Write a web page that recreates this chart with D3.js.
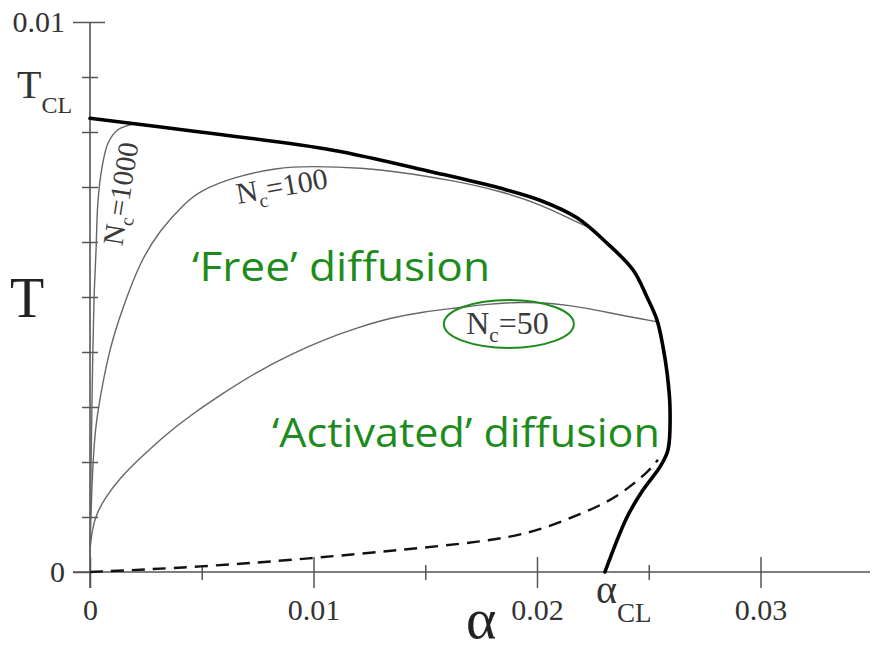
<!DOCTYPE html>
<html>
<head>
<meta charset="utf-8">
<script src="https://cdn.jsdelivr.net/npm/d3@7"></script>
<style>
  body { margin: 0; background: #fff; }
  svg { display: block; }
  .serif { font-family: "Liberation Serif", "Times New Roman", Times, serif; }
  .sans { font-family: "Open Sans", "Noto Sans", sans-serif; }
</style>
</head>
<body>
<svg id="chart" width="872" height="652"></svg>
<script>
// ---- Phase boundary (thick line): alpha vs T ----
const boundaryAlpha = [0, 0.00492, 0.01087, 0.01535, 0.01834, 0.02013, 0.02179, 0.02313, 0.0243, 0.02492,
                       0.02537, 0.02564, 0.02582, 0.02595, 0.02586, 0.0255, 0.02474, 0.02403, 0.02304];
const boundaryT     = [0.00825, 0.0080, 0.00767, 0.00727, 0.00698, 0.00676, 0.00644, 0.00598, 0.00549, 0.0050,
                       0.00458, 0.00409, 0.00362, 0.0030, 0.00222, 0.00191, 0.00149, 0.0010, 0];

// ---- Crossover lines for several cluster sizes N_c ----
const nc1000Alpha = [0, 0.00002, 0.00004, 0.00009, 0.00018, 0.00027, 0.00036, 0.00054, 0.00081, 0.00125, 0.00201];
const nc1000T     = [0.0002, 0.0009, 0.00167, 0.00313, 0.00495, 0.00585, 0.00676, 0.00736, 0.0078, 0.00804, 0.00815];

const nc100Alpha = [0, 0.00009, 0.00022, 0.00045, 0.00089, 0.00148, 0.00224, 0.00313, 0.00425, 0.00492,
                    0.0064, 0.00837, 0.00984, 0.01221, 0.01387, 0.01611, 0.01834, 0.02013, 0.02179, 0.02237];
const nc100T     = [0.00049, 0.00167, 0.00258, 0.00318, 0.00409, 0.00482, 0.00564, 0.00622, 0.00671, 0.00693,
                    0.00718, 0.00735, 0.00738, 0.00735, 0.00727, 0.00713, 0.00693, 0.00669, 0.00636, 0.00626];

const nc50Alpha = [0, 0.00009, 0.00027, 0.00067, 0.00134, 0.00224, 0.00336, 0.00447, 0.00595, 0.00747, 0.00895,
                   0.01043, 0.01195, 0.01342, 0.0149, 0.01642, 0.01776, 0.01924, 0.02072, 0.02224, 0.02371, 0.02537];
const nc50T     = [0.00040, 0.00076, 0.00104, 0.00135, 0.00171, 0.00207, 0.00249, 0.00284, 0.00325, 0.00364, 0.00395,
                   0.00422, 0.00444, 0.00462, 0.00473, 0.0048, 0.00487, 0.00491, 0.00489, 0.0048, 0.00467, 0.00455];

// ---- Dashed lower line ----
const dashAlpha = [0, 0.00492, 0.00998, 0.01387, 0.01758, 0.01982, 0.02206, 0.02358, 0.02506, 0.02541];
const dashT     = [0, 0.00009, 0.00025, 0.0004, 0.00055, 0.00071, 0.00107, 0.00135, 0.00185, 0.00204];

// ---- Axis ticks ----
const xMajorTicks = [0, 0.01, 0.02, 0.03];
const xTickLabels = ["0", "0.01", "0.02", "0.03"];
const xMinorTicks = [0.005, 0.015, 0.025];
const yMajorTicks = [0, 0.01];
const yTickLabels = ["0", "0.01"];
const yMinorTicks = [0.001, 0.002, 0.003, 0.004, 0.005, 0.006, 0.007, 0.008, 0.009];
const alphaCL = 0.0230;
const tclTick = 0.009;

const zip = (a, b) => a.map((v, i) => [v, b[i]]);

const svg = d3.select("#chart");
const x = d3.scaleLinear().domain([0, 0.035]).range([90, 872.25]);
const y = d3.scaleLinear().domain([0, 0.01]).range([572, 22]);

const axisColor = "#555";
const textColor = "#333";
const green = "#1d8c1d";

// ---------- axes ----------
const gx = svg.append("g").attr("transform", `translate(0,${y(0)})`);
gx.call(d3.axisBottom(x).tickValues(xMajorTicks).tickFormat((d, i) => xTickLabels[i]).tickSize(16));
gx.attr("font-family", null).attr("font-size", null);
gx.select(".domain").remove();
gx.selectAll(".tick line").attr("y1", -15).attr("y2", 16).attr("stroke", axisColor).attr("stroke-width", 1.5);
gx.selectAll(".tick text").attr("y", 48).attr("dy", 0).attr("class", "serif")
  .style("font-size", "30px").attr("fill", textColor);

const gxm = svg.append("g").attr("transform", `translate(0,${y(0)})`);
gxm.call(d3.axisBottom(x).tickValues(xMinorTicks).tickFormat("").tickSize(8));
gxm.select(".domain").remove();
gxm.selectAll(".tick line").attr("y1", -7).attr("y2", 8).attr("stroke", axisColor).attr("stroke-width", 1.5);

const gy = svg.append("g").attr("transform", `translate(${x(0)},0)`);
gy.call(d3.axisLeft(y).tickValues(yMajorTicks).tickFormat((d, i) => yTickLabels[i]).tickSize(17));
gy.attr("font-family", null).attr("font-size", null);
gy.select(".domain").remove();
gy.selectAll(".tick line").attr("x2", -17).attr("x1", d => d === 0 ? 0 : 15)
  .attr("stroke", axisColor).attr("stroke-width", 1.5);
gy.selectAll(".tick text").attr("x", -25).attr("dy", "0.33em").attr("class", "serif")
  .style("font-size", "30px").attr("fill", textColor);

const gym = svg.append("g").attr("transform", `translate(${x(0)},0)`);
gym.call(d3.axisLeft(y).tickValues(yMinorTicks).tickFormat("").tickSize(8));
gym.select(".domain").remove();
gym.selectAll(".tick line").attr("x1", 8).attr("x2", -8).attr("stroke", axisColor).attr("stroke-width", 1.5);

// axis lines
svg.append("line").attr("x1", 73).attr("x2", 870).attr("y1", y(0)).attr("y2", y(0))
  .attr("stroke", axisColor).attr("stroke-width", 1.6);
svg.append("line").attr("x1", x(0)).attr("x2", x(0)).attr("y1", y(0.01)).attr("y2", y(0) + 16)
  .attr("stroke", axisColor).attr("stroke-width", 1.6);

// axis titles and special labels
svg.append("text").attr("class", "serif").attr("x", 10).attr("y", 317).style("font-size", "56px")
  .attr("fill", "#222").text("T");
svg.append("text").attr("class", "serif").attr("x", 466).attr("y", 638).style("font-size", "58px")
  .attr("fill", "#222").text("α");

const tcl = svg.append("text").attr("class", "serif").attr("x", 17).attr("y", y(tclTick) + 21)
  .attr("fill", textColor);
tcl.append("tspan").style("font-size", "40px").text("T");
tcl.append("tspan").style("font-size", "24px").attr("dy", 15).text("CL");

const acl = svg.append("text").attr("class", "serif").attr("x", x(alphaCL) - 8).attr("y", 603)
  .attr("fill", textColor);
acl.append("tspan").style("font-size", "40px").text("α");
acl.append("tspan").style("font-size", "27px").attr("dy", 19).text("CL");

// ---------- curves ----------
const smooth = d3.line().x(d => x(d[0])).y(d => y(d[1])).curve(d3.curveBasis);
const through = d3.line().x(d => x(d[0])).y(d => y(d[1])).curve(d3.curveCatmullRom.alpha(0.5));

svg.append("path").datum(zip(nc1000Alpha, nc1000T)).attr("d", through)
  .attr("fill", "none").attr("stroke", "#666").attr("stroke-width", 1.4);
svg.append("path").datum(zip(nc100Alpha, nc100T)).attr("d", smooth)
  .attr("fill", "none").attr("stroke", "#666").attr("stroke-width", 1.4);
svg.append("path").datum(zip(nc50Alpha, nc50T)).attr("d", smooth)
  .attr("fill", "none").attr("stroke", "#666").attr("stroke-width", 1.4);
svg.append("path").datum(zip(dashAlpha, dashT)).attr("d", smooth)
  .attr("fill", "none").attr("stroke", "#111").attr("stroke-width", 2.4).attr("stroke-dasharray", "13,8");
svg.append("path").datum(zip(boundaryAlpha, boundaryT)).attr("d", through)
  .attr("fill", "none").attr("stroke", "#000").attr("stroke-width", 3.6).attr("stroke-linecap", "round");

// ---------- curve labels ----------
function ncLabel(px, py, angle, size, value) {
  const t = svg.append("text").attr("class", "serif")
    .attr("transform", `translate(${px},${py}) rotate(${angle})`)
    .attr("fill", "#3a3a3a").style("font-size", size + "px");
  t.append("tspan").text("N");
  t.append("tspan").style("font-size", (size * 0.66) + "px").attr("dy", size * 0.25).text("c");
  t.append("tspan").attr("dy", -size * 0.25).text("=" + value);
}
ncLabel(x(0.00144), y(0.00592), -81, 29, "1000");
ncLabel(x(0.00662), y(0.00669), -10, 30, "100");
ncLabel(x(0.01683), y(0.00433), 0, 32, "50");

// ---------- region annotations ----------
svg.append("ellipse").attr("cx", x(0.01874)).attr("cy", y(0.00451)).attr("rx", 65).attr("ry", 24)
  .attr("fill", "none").attr("stroke", green).attr("stroke-width", 2);

svg.append("text").attr("class", "sans").attr("x", 192).attr("y", 281)
  .style("font-size", "40px").attr("fill", green)
  .attr("textLength", 298).attr("lengthAdjust", "spacingAndGlyphs")
  .text("\u2018Free\u2019 diffusion");
svg.append("text").attr("class", "sans").attr("x", 272).attr("y", 447)
  .style("font-size", "40px").attr("fill", green)
  .attr("textLength", 388).attr("lengthAdjust", "spacingAndGlyphs")
  .text("\u2018Activated\u2019 diffusion");
</script>
</body>
</html>
